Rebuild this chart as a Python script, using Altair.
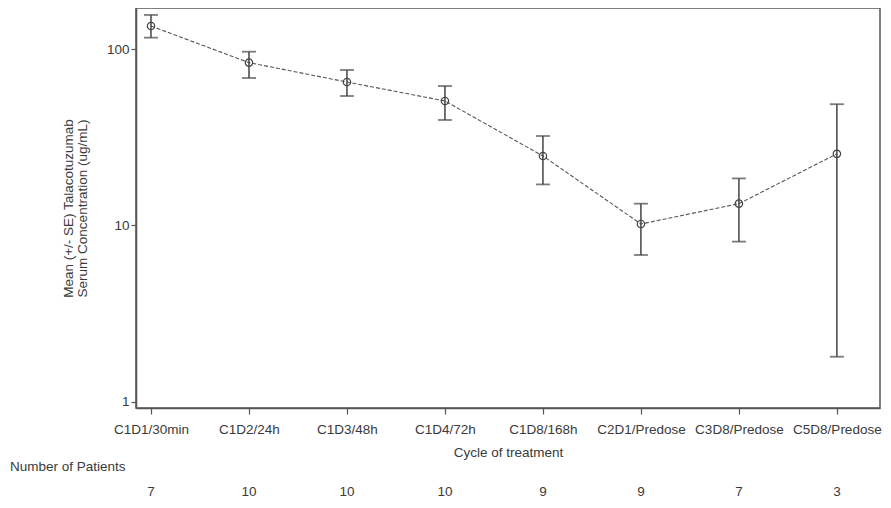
import json
import altair as alt
import pandas as pd

timepoints = ["C1D1/30min", "C1D2/24h", "C1D3/48h", "C1D4/72h",
              "C1D8/168h", "C2D1/Predose", "C3D8/Predose", "C5D8/Predose"]
mean_conc = [135.5, 84.0, 65.2, 50.9, 24.8, 10.2, 13.3, 25.5]
upper_se = [156.6, 96.9, 76.3, 61.9, 32.2, 13.3, 18.5, 48.8]
lower_se = [116.4, 68.7, 54.3, 39.7, 17.1, 6.8, 8.1, 1.8]
n_patients = [7, 10, 10, 10, 9, 9, 7, 3]
y_ticks = [1, 10, 100]

df = pd.DataFrame({
    "idx": list(range(len(timepoints))),
    "time": timepoints,
    "mean": mean_conc,
    "upper": upper_se,
    "lower": lower_se,
    "n": [str(v) for v in n_patients],
})

FONT = "Liberation Sans"
TXT = "#3a3a3a"
AX = "#555555"
FS = 13.5

label_expr = json.dumps(timepoints) + "[round(datum.value)]"

x_enc = alt.X(
    "idx:Q",
    scale=alt.Scale(domain=[-0.153, 7.44], nice=False, zero=False),
    axis=alt.Axis(
        values=list(range(len(timepoints))),
        labelExpr=label_expr,
        title="Cycle of treatment",
        grid=False,
        tickSize=6,
        labelPadding=8,
        titlePadding=10,
        labelFont=FONT, titleFont=FONT,
        labelFontSize=FS, titleFontSize=FS,
        labelColor=TXT, titleColor=TXT,
        titleFontWeight="normal",
        domainColor=AX, tickColor=AX, domainWidth=1.5, tickWidth=1.2,
        labelOverlap=False,
        labelFlush=False,
    ),
)

y_scale = alt.Scale(type="log", domain=[0.921, 171.5], nice=False)
y_enc = alt.Y(
    "mean:Q",
    scale=y_scale,
    axis=alt.Axis(
        values=y_ticks,
        format=",.0f",
        title=["Mean (+/- SE) Talacotuzumab", "Serum Concentration (ug/mL)"],
        grid=False,
        tickSize=5,
        labelPadding=2,
        titlePadding=17,
        labelFont=FONT, titleFont=FONT,
        labelFontSize=FS, titleFontSize=FS,
        labelColor=TXT, titleColor=TXT,
        titleFontWeight="normal",
        titleLineHeight=14,
        domainColor=AX, tickColor=AX, domainWidth=1.5, tickWidth=1.2,
    ),
)

base = alt.Chart(df)

line = base.mark_line(color="#555555", strokeWidth=1.1, strokeDash=[4, 2]).encode(
    x=x_enc, y=y_enc
)

err = base.mark_rule(color="#444444", strokeWidth=1.5).encode(
    x="idx:Q",
    y=alt.Y("lower:Q", scale=y_scale),
    y2="upper:Q",
)

cap_lo = base.mark_tick(color="#444444", orient="horizontal", size=14, thickness=1.8).encode(
    x="idx:Q", y=alt.Y("lower:Q", scale=y_scale)
)
cap_hi = base.mark_tick(color="#444444", orient="horizontal", size=14, thickness=1.8).encode(
    x="idx:Q", y=alt.Y("upper:Q", scale=y_scale)
)

pts = base.mark_point(shape="circle", size=55, filled=False, color="#444444",
                      strokeWidth=1.2, opacity=1).encode(
    x="idx:Q", y=alt.Y("mean:Q", scale=y_scale)
)

ntext = base.mark_text(font=FONT, fontSize=FS, color=TXT, baseline="middle",
                       align="center").encode(
    x="idx:Q",
    y=alt.value(484),
    text="n:N",
)

header = alt.Chart(pd.DataFrame({"label": ["Number of Patients"]})).mark_text(
    font=FONT, fontSize=FS, color=TXT, baseline="middle", align="left"
).encode(
    x=alt.value(-126),
    y=alt.value(459),
    text="label:N",
)

chart = alt.layer(line, err, cap_lo, cap_hi, pts, ntext, header).properties(
    width=744,
    height=400,
    autosize=alt.AutoSizeParams(type="none"),
    padding={"left": 128, "top": 0, "right": 3, "bottom": 92},
    background="white",
).configure_view(stroke=AX, strokeWidth=1.5)

chart.save("out.html", embed_options={"renderer": "svg", "actions": False})
